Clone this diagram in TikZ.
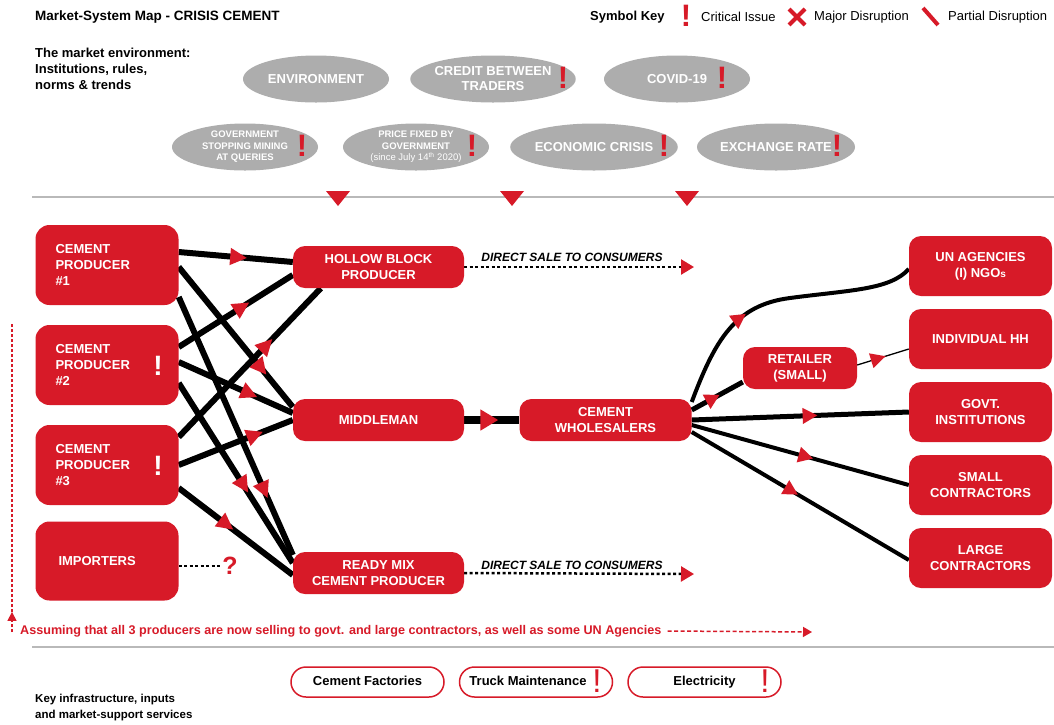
\documentclass[tikz,border=0pt]{standalone}
\usepackage{fontspec}
\setmainfont{Liberation Sans}
\usetikzlibrary{arrows.meta,decorations.markings,shapes.geometric,backgrounds,calc}
\definecolor{cred}{HTML}{D71A28}
\definecolor{cgrey}{HTML}{ADADAD}
\definecolor{cline}{HTML}{B9B9B9}
\newcommand{\fsz}[2]{\fontsize{#1pt}{#2pt}\selectfont}
\tikzset{
  redbox/.style={fill=cred, rounded corners=12pt, text=white, font=\bfseries\fsz{13}{16}, align=center, inner sep=0pt},
  prodbox/.style={redbox, rounded corners=14pt, minimum width=143pt, minimum height=80pt, text width=103pt, align=left},
  midbox/.style={redbox, minimum width=171pt, minimum height=42pt},
  outbox/.style={redbox, minimum width=143pt, minimum height=60pt},
  envell/.style={ellipse, fill=cgrey, minimum width=146pt, minimum height=47pt, inner sep=0pt, text=white, font=\bfseries\fsz{13}{15}, align=center},
  smallell/.style={envell, font=\bfseries\fsz{9.5}{11.5}},
  excl/.style={text=cred, font=\bfseries\fsz{31}{31}, inner sep=0pt},
  wexcl/.style={text=white, font=\bfseries\fsz{28}{28}, inner sep=0pt},
  pexcl/.style={text=cred, font=\fsz{33}{33}, inner sep=0pt},
  pill/.style={draw=cred, line width=1.5pt, fill=white, rounded corners=15pt, minimum width=153pt, minimum height=30pt, inner sep=0pt, text height=9.5pt, text depth=2.5pt, font=\bfseries\fsz{13}{15}},
  plain/.style={inner sep=0pt, anchor=west, align=left},
  flow/.style={draw=black, line width=6pt},
  oflow/.style={draw=black, line width=4pt},
  dotl/.style={draw=black, line width=2.5pt, dash pattern=on 3pt off 2.5pt},
  marr/.style={postaction={decorate, decoration={markings, mark=at position #1 with {\arrow{Triangle[length=17pt,width=16pt,color=cred]}}}}},
  marrs/.style={postaction={decorate, decoration={markings, mark=at position #1 with {\arrow{Triangle[length=15pt,width=15pt,color=cred]}}}}},
}
\begin{document}
\begin{tikzpicture}[x=1pt,y=-1pt]
\useasboundingbox (0,0) rectangle (1054,724);

% header
\node[plain, font=\bfseries\fsz{13.5}{16}] (title) at (35,17) {Market-System Map - CRISIS CEMENT};
\node[plain, font=\bfseries\fsz{13}{16}] (keyt) at (590,17) {Symbol Key};
\node[excl] (kex) at (686,16) {!};
\node[plain, font=\fsz{13}{16}] (kci) at (701,17) {Critical Issue};
\draw[cred, line width=4pt] (789,9) -- (805,25) (805,9) -- (789,25);
\node[plain, font=\fsz{13}{16}] (kmd) at (814,17) {Major Disruption};
\draw[cred, line width=4pt] (923,8) -- (938,25);
\node[plain, font=\fsz{13}{16}] (kpd) at (948,17) {Partial Disruption};

\node[plain, font=\bfseries\fsz{13}{16}] (envt) at (35,69) {The market environment:\\Institutions, rules,\\norms \& trends};

% environment ellipses
\node[envell] (e1) at (316,79) {ENVIRONMENT};
\node[envell] (e2) at (493,79) {CREDIT BETWEEN\\TRADERS};
\node[excl] (x2) at (563,78) {!};
\node[envell] (e3) at (677,79) {COVID-19};
\node[excl] (x3) at (722,78) {!};
\node[smallell] (e4) at (245,147) {GOVERNMENT\\STOPPING MINING\\AT QUERIES};
\node[excl] (x4) at (302,146) {!};
\node[smallell] (e5) at (416,147) {PRICE FIXED BY\\GOVERNMENT\\{\mdseries (since July 14\textsuperscript{th} 2020)}};
\node[excl] (x5) at (472,146) {!};
\node[envell] (e6) at (594,147) {ECONOMIC CRISIS};
\node[excl] (x6) at (664,146) {!};
\node[envell] (e7) at (776,147) {EXCHANGE RATE};
\node[excl] (x7) at (837,146) {!};

% separators
\draw[cline, line width=2pt] (32,197) -- (1054,197);
\draw[cline, line width=2pt] (32,647) -- (1054,647);
\fill[cred] (326,191) -- (350,191) -- (338,206) -- cycle;
\fill[cred] (500,191) -- (524,191) -- (512,206) -- cycle;
\fill[cred] (675,191) -- (699,191) -- (687,206) -- cycle;

% boxes
\node[prodbox] (p1) at (107,265) {CEMENT\\PRODUCER\\\#1};
\node[prodbox] (p2) at (107,365) {CEMENT\\PRODUCER\\\#2};
\node[wexcl] (w2) at (158,366) {!};
\node[prodbox] (p3) at (107,465) {CEMENT\\PRODUCER\\\#3};
\node[wexcl] (w3) at (158,466) {!};
\node[prodbox, minimum height=79pt] (imp) at (107,561) {\hspace*{3pt}IMPORTERS};

\node[midbox] (hol) at (378.5,267) {HOLLOW BLOCK\\PRODUCER};
\node[midbox] (mid) at (378.5,420) {MIDDLEMAN};
\node[midbox] (rmx) at (378.5,573) {READY MIX\\CEMENT PRODUCER};
\node[midbox, minimum width=172pt] (whl) at (605.5,420) {CEMENT\\WHOLESALERS};
\node[redbox, minimum width=114pt, minimum height=42pt] (ret) at (800,368) {RETAILER\\(SMALL)};

\node[outbox] (un) at (980.5,266) {UN AGENCIES\\(I) NGO{\fsz{10}{12}s}};
\node[outbox] (hh) at (980.5,339) {INDIVIDUAL HH};
\node[outbox] (gov) at (980.5,412) {GOVT.\\INSTITUTIONS};
\node[outbox] (sc) at (980.5,485) {SMALL\\CONTRACTORS};
\node[outbox] (lc) at (980.5,558) {LARGE\\CONTRACTORS};

% direct sale
\coordinate (ds1) at (694,267);
\coordinate (ds2) at (694,574);
\node[font=\bfseries\itshape\fsz{12}{14}, inner sep=0pt] (dsl1) at (572,257) {DIRECT SALE TO CONSUMERS};
\node[font=\bfseries\itshape\fsz{12}{14}, inner sep=0pt] (dsl2) at (572,565) {DIRECT SALE TO CONSUMERS};

% importers
\coordinate (qm) at (222,566);
\node[text=cred, font=\bfseries\fsz{25}{25}, inner sep=0pt] (qmark) at (230,566) {?};

% assumption
\node[plain, text=cred, font=\bfseries\fsz{12.6}{15}] (asm) at (20,631) {Assuming that all 3 producers are now selling to govt. and large contractors, as well as some UN Agencies};
\coordinate (as1) at (812,632);
\coordinate (vb) at (12,632);
\coordinate (vt) at (12,323);

% infrastructure
\node[pill] (f1) at (367.5,682) {Cement Factories};
\node[pill] (f2) at (536,682) {Truck Maintenance\hspace*{16pt}};
\node[pexcl] (fx2) at (597,681) {!};
\node[pill] (f3) at (704.5,682) {Electricity};
\node[pexcl] (fx3) at (765,681) {!};
\node[plain, font=\bfseries\fsz{11.5}{16}] (infra) at (35,708) {Key infrastructure, inputs\\and market-support services};

\begin{scope}[on background layer]
\fill[white] (0,0) rectangle (1054,724);
% producers to processors
\draw[flow, marr=0.6] ([yshift=13pt]p1.east) -- ([yshift=5pt]hol.west);
\draw[flow, marr=0.77] ([yshift=-2pt]p1.east) -- ([yshift=13pt]mid.west);
\draw[flow, marr=0.78] ([yshift=-32pt]p1.east) -- ([yshift=18pt]rmx.west);
\draw[flow, marr=0.62] ([yshift=18pt]p2.east) -- ([yshift=-8pt]hol.west);
\draw[flow, marr=0.69] ([yshift=3pt]p2.east) -- ([yshift=7pt]mid.west);
\draw[flow, marr=0.61] ([yshift=-18pt]p2.east) -- ([yshift=10pt]rmx.west);
\draw[flow, marr=0.66] ([yshift=28pt]p3.east) -- ([xshift=28pt]hol.south west);
\draw[flow, marr=0.74] (p3.east) -- (mid.west);
\draw[flow, marr=0.48] ([yshift=-23pt]p3.east) -- ([yshift=-2pt]rmx.west);
% middleman to wholesaler
\draw[draw=black, line width=8pt, postaction={decorate, decoration={markings, mark=at position 0.62 with {\arrow{Triangle[length=18pt,width=20pt,color=cred]}}}}] (mid.east) -- (whl.west);
% wholesaler to buyers
\draw[oflow, marrs=0.38] ([yshift=18pt]whl.east) .. controls (715,340) and (735,305) .. (790,298) .. controls (850,290) and (890,290) .. ([yshift=-3pt]un.west);
\draw[draw=black, line width=5pt, marrs=0.55] ([yshift=10pt]whl.east) -- ([yshift=-14pt]ret.west);
\draw[draw=black, line width=1.3pt, marrs=0.55] ([yshift=3pt]ret.east) -- ([yshift=-10pt]hh.west);
\draw[draw=black, line width=5pt, marrs=0.58] (whl.east) -- (gov.west);
\draw[oflow, marrs=0.56] ([yshift=-5pt]whl.east) -- (sc.west);
\draw[oflow, marrs=0.49] ([yshift=-12pt]whl.east) -- ([yshift=-2pt]lc.west);
% dotted
\draw[dotl, -{Triangle[length=13pt,width=15pt,color=cred]}] (hol.east) -- (ds1);
\draw[dotl, -{Triangle[length=13pt,width=15pt,color=cred]}] (rmx.east) -- (ds2);
\draw[dotl] ([yshift=-5pt]imp.east) -- (qm);
\draw[cred, line width=1.5pt, dash pattern=on 4pt off 2.5pt, -{Triangle[length=9pt,width=10pt]}] ([xshift=6pt]asm.east) -- (as1);
\draw[cred, line width=1.5pt, dash pattern=on 3pt off 2pt, postaction={decorate, decoration={markings, mark=at position 0.065 with {\arrow{Triangle[length=9pt,width=9pt,color=cred]}}}}] (vb) -- (vt);
\end{scope}
\end{tikzpicture}
\end{document}
